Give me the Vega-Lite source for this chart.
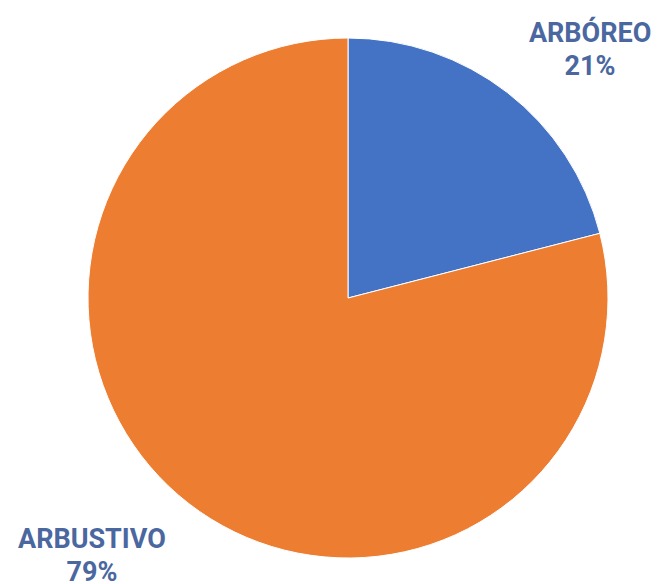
{
  "$schema": "https://vega.github.io/schema/vega-lite/v6.json",
  "width": 626,
  "height": 572,
  "autosize": "none",
  "padding": {"left": 35, "top": 12, "right": 0, "bottom": 0},
  "background": "white",
  "view": {"stroke": null},
  "data": {
    "values": [
      {"category": "ARBÓREO", "value": 21, "ord": 1, "label": "ARBÓREO\n21%"},
      {"category": "ARBUSTIVO", "value": 79, "ord": 2, "label": "ARBUSTIVO\n79%"}
    ]
  },
  "encoding": {
    "theta": {"field": "value", "type": "quantitative", "stack": true},
    "order": {"field": "ord", "type": "quantitative", "sort": "ascending"}
  },
  "layer": [
    {
      "mark": {"type": "arc", "outerRadius": 260, "stroke": "white", "strokeWidth": 1},
      "encoding": {
        "color": {
          "field": "category",
          "type": "nominal",
          "scale": {"domain": ["ARBÓREO", "ARBUSTIVO"], "range": ["#4472C4", "#ED7D31"]},
          "legend": null
        }
      }
    },
    {
      "mark": {
        "type": "text",
        "radius": 355,
        "thetaOffset": 0.118,
        "dx": -7,
        "dy": -11,
        "font": "Roboto",
        "fontWeight": "bold",
        "fontSize": 27,
        "lineBreak": "\n",
        "lineHeight": 33,
        "align": "center",
        "baseline": "middle",
        "fill": "#4A67A0"
      },
      "encoding": {
        "text": {"field": "label", "type": "nominal"}
      }
    }
  ]
}
